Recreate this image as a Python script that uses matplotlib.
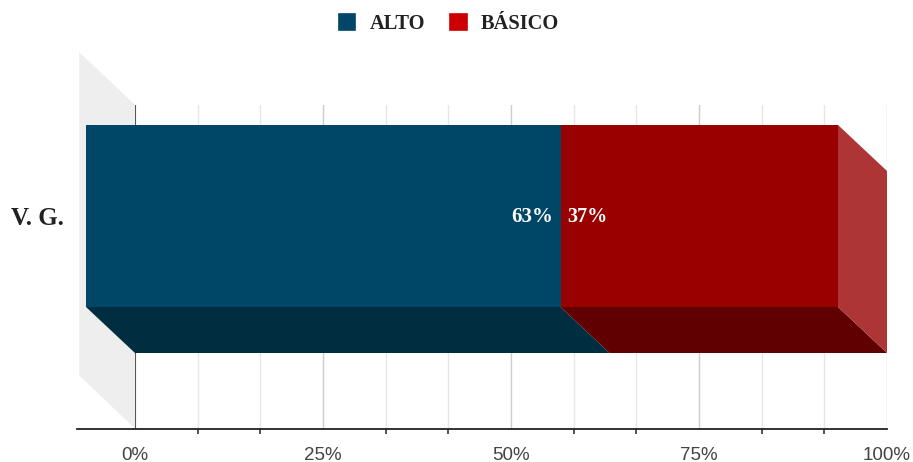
import matplotlib
matplotlib.use('Agg')
import matplotlib.pyplot as plt
from matplotlib.patches import Patch, Polygon

# datos
categorias = ['V. G.']
series = ['ALTO', 'BÁSICO']
alto = [63.1]
basico = [36.9]
ticks_mayores = [0, 25, 50, 75, 100]
ticks_menores = [8.33, 16.67, 33.33, 41.67, 58.33, 66.67, 83.33, 91.67]

SERIF = 'Liberation Serif'
SANS = 'Liberation Sans'

fig = plt.figure(figsize=(9.13, 4.62), dpi=100)
ax = fig.add_axes([135 / 913, (462 - 428.5) / 462, 752 / 913, 323.5 / 462])
ax.set_xlim(0, 100)
ax.set_ylim(-0.5147, 0.4853)

# profundidad del efecto 3D (en unidades de los ejes)
dx = 49 / 7.52
dy = 46 / 323.5
alto_barra = 182 / 323.5
y0 = 0
abajo = y0 - alto_barra / 2

# pared izquierda
ax.add_patch(Polygon([(0, 0.4853), (-dx - 0.9, 0.4853 + 53 / 323.5),
                      (-dx - 0.9, -0.5147 + 53 / 323.5), (0, -0.5147)],
                     closed=True, fc='#eeeeee', ec='none', clip_on=False, zorder=0.5))

# rejilla
ax.set_xticks(ticks_mayores)
ax.set_xticks(ticks_menores, minor=True)
ax.set_xticklabels(['%d%%' % t for t in ticks_mayores], fontname=SANS, fontsize=13.5, color='#444444')
ax.grid(True, axis='x', which='major', color='#cccccc', lw=1.0)
ax.grid(True, axis='x', which='minor', color='#e6e6e6', lw=1.0)
ax.set_axisbelow(True)
ax.tick_params(axis='x', which='major', length=0, pad=13)
ax.tick_params(axis='x', which='minor', length=3.6, width=1.1, color='#222222')
ax.axvline(0, color='#333333', lw=1.1, zorder=1.5)

for s in ['top', 'left', 'right']:
    ax.spines[s].set_visible(False)
ax.spines['bottom'].set_bounds(-58 / 7.52, 100)
ax.spines['bottom'].set_linewidth(1.3)
ax.spines['bottom'].set_color('#222222')

# caras frontales
ax.barh(y0 + dy, alto, left=-dx, height=alto_barra, color='#004666', zorder=3, clip_on=False)
ax.barh(y0 + dy, basico, left=[a - dx for a in alto], height=alto_barra, color='#990000', zorder=3, clip_on=False)

# caras inferiores
for inicio, valor, col in [(0, alto[0], '#002d40'), (alto[0], basico[0], '#600000')]:
    ax.add_patch(Polygon([(inicio - dx, abajo + dy), (inicio + valor - dx, abajo + dy),
                          (inicio + valor, abajo), (inicio, abajo)],
                         closed=True, fc=col, ec='none', zorder=2.5, clip_on=False))

# cara derecha
fin = alto[0] + basico[0]
ax.add_patch(Polygon([(fin - dx, abajo + dy), (fin - dx, abajo + dy + alto_barra),
                      (fin, abajo + alto_barra), (fin, abajo)],
                     closed=True, fc='#ad3535', ec='none', zorder=2.5))

# etiquetas de datos
ax.annotate('%d%%' % round(alto[0]), (alto[0] - dx, y0 + dy), xytext=(-5, -1), textcoords='offset points',
            ha='right', va='center', color='white', fontname=SERIF, fontweight='bold', fontsize=15, zorder=4)
ax.annotate('%d%%' % round(basico[0]), (alto[0] - dx, y0 + dy), xytext=(5, -1), textcoords='offset points',
            ha='left', va='center', color='white', fontname=SERIF, fontweight='bold', fontsize=14.5, zorder=4)

ax.set_yticks([y0 + dy])
ax.set_yticklabels(categorias, fontname=SERIF, fontweight='bold', fontsize=18, color='#222222')
ax.tick_params(axis='y', length=0, pad=51)

# leyenda
handles = [Patch(fc='#004666', ec='#004666', lw=1.2, joinstyle='round'),
           Patch(fc='#cc0000', ec='#cc0000', lw=1.2, joinstyle='round')]
fig.legend(handles, series, loc='center', bbox_to_anchor=(449 / 913, (462 - 24) / 462), ncol=2,
           frameon=False, handlelength=0.8, handleheight=0.8, handletextpad=0.7, columnspacing=1.25,
           prop={'family': SERIF, 'weight': 'bold', 'size': 14.7}, labelcolor='#222222')

fig.savefig('out.png', dpi=100)
